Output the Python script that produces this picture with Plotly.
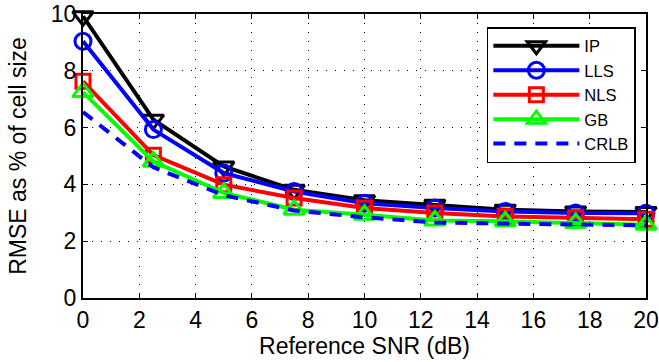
import plotly.graph_objects as go

# Reference SNR (dB) sample points
snr_db = [0, 2.5, 5, 7.5, 10, 12.5, 15, 17.5, 20]

# RMSE as % of cell size for each estimator
rmse_ip = [9.92, 6.28, 4.63, 3.81, 3.44, 3.28, 3.11, 3.05, 3.03]
rmse_lls = [9.04, 5.93, 4.40, 3.75, 3.34, 3.17, 3.05, 2.99, 2.98]
rmse_nls = [7.63, 5.03, 3.99, 3.52, 3.17, 2.99, 2.87, 2.82, 2.77]
rmse_gb = [7.25, 4.80, 3.70, 3.11, 2.93, 2.73, 2.70, 2.64, 2.58]
rmse_crlb = [6.55, 4.60, 3.62, 3.08, 2.84, 2.66, 2.62, 2.60, 2.56]

x_ticks = [0, 2, 4, 6, 8, 10, 12, 14, 16, 18, 20]
y_ticks = [0, 2, 4, 6, 8, 10]

FONT = "Arial, Liberation Sans, sans-serif"

series = [
    ("IP", rmse_ip, "#000000", "triangle-down-open", 18),
    ("LLS", rmse_lls, "#0000ff", "circle-open", 16),
    ("NLS", rmse_nls, "#ff0000", "square-open", 14),
    ("GB", rmse_gb, "#00ff00", "triangle-up-open", 18),
]

fig = go.Figure()
for name, vals, color, symbol, size in series:
    fig.add_trace(go.Scatter(
        x=snr_db, y=vals, name=name, mode="lines+markers",
        line=dict(color=color, width=4),
        marker=dict(symbol=symbol, size=size, color=color,
                    line=dict(color=color, width=3)),
        cliponaxis=False,
    ))

fig.add_trace(go.Scatter(
    x=snr_db, y=rmse_crlb, name="CRLB", mode="lines",
    line=dict(color="#0000ff", width=4, dash="12px,9px"),
    cliponaxis=False,
))

axis_common = dict(
    showline=True, linecolor="black", linewidth=2, mirror="allticks",
    ticks="inside", ticklen=5, tickwidth=1, tickcolor="black",
    showgrid=True, gridcolor="#000000", gridwidth=1, griddash="1px,8px",
    zeroline=False, automargin=False,
    tickfont=dict(family=FONT, size=23, color="black"),
    title_font=dict(family=FONT, size=23, color="black"),
)

fig.update_xaxes(
    range=[0, 20], tickvals=x_ticks, ticktext=[str(v) for v in x_ticks],
    title_text="Reference SNR (dB)", title_standoff=6, **axis_common,
)
fig.update_yaxes(
    range=[0, 10], tickvals=y_ticks, ticktext=[str(v) for v in y_ticks],
    title_text="RMSE as % of cell size", title_standoff=18, **axis_common,
)

fig.update_layout(
    width=659, height=362,
    margin=dict(l=83, r=13, t=14, b=64),
    paper_bgcolor="white", plot_bgcolor="white",
    font=dict(family=FONT, color="black"),
    showlegend=True,
    legend=dict(
        x=0.982, xanchor="right", y=0.954, yanchor="top",
        bgcolor="white", bordercolor="black", borderwidth=1.5,
        font=dict(family=FONT, size=16.5, color="black"),
        itemwidth=86, tracegroupgap=0,
    ),
)

fig.write_html("out.html")
